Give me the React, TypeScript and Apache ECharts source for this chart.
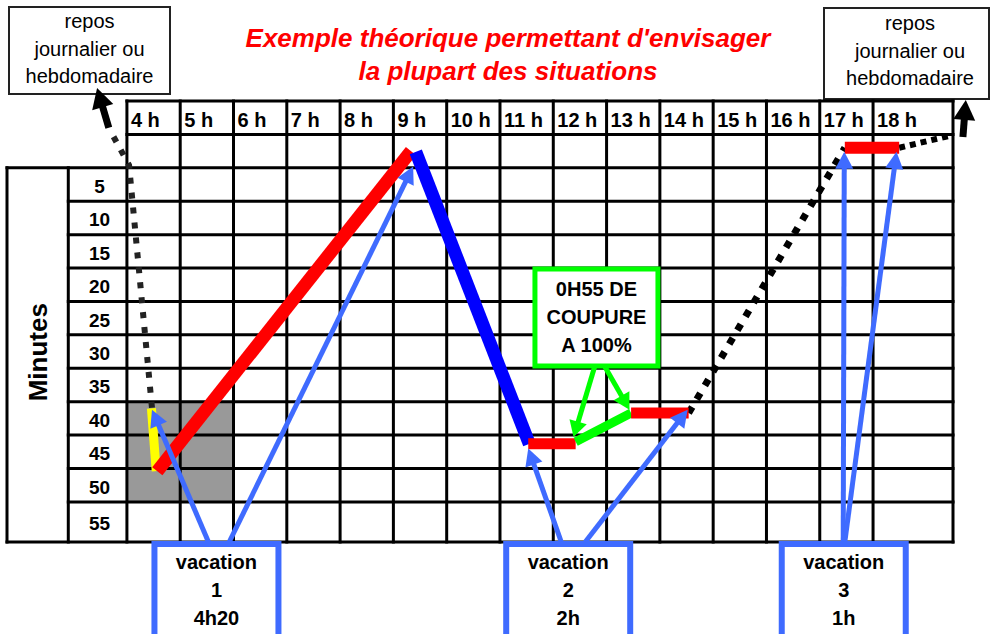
import React, { useEffect, useRef } from 'react';
import * as echarts from 'echarts';

const FONT = '"Liberation Sans", Arial, Helvetica, sans-serif';

// ---- texts ----
const titleLines = ["Exemple théorique permettant d'envisager", 'la plupart des situations'];
const reposLines = ['repos', 'journalier ou', 'hebdomadaire'];
const yAxisTitle = 'Minutes';

// ---- table ticks ----
const hourValues = [4, 5, 6, 7, 8, 9, 10, 11, 12, 13, 14, 15, 16, 17, 18];
const hourLabels = ['4 h', '5 h', '6 h', '7 h', '8 h', '9 h', '10 h', '11 h', '12 h', '13 h', '14 h', '15 h', '16 h', '17 h', '18 h'];
const minuteValues = [5, 10, 15, 20, 25, 30, 35, 40, 45, 50, 55];
const minuteLabels = ['5', '10', '15', '20', '25', '30', '35', '40', '45', '50', '55'];

// grey zone (hours x minutes)
const shadedHours = [4, 6];
const shadedMinutes = [40, 55];

// ---- paths as [hour, minute] points ----
const yellowPath = [[4.46, 41.0], [4.55, 50.4]];
const redPath = [[4.57, 50.4], [9.33, 2.5]];
const bluePath = [[9.42, 2.6], [11.55, 46.3]];
const redBeforeBreak = [[11.53, 46.3], [12.42, 46.3]];
const greenBreak = [[12.42, 46.0], [13.46, 41.7]];
const redAfterBreak = [[13.46, 41.7], [14.54, 41.7]];
const redTop = [[17.47, 2.0], [18.49, 2.0]];
const restLeft = [[4.47, 40.9], [4.04, 4.6], [3.68, -0.66]];
const restMiddle = [[14.54, 41.7], [17.47, 2.0]];
const restRight = [[18.49, 2.0], [19.42, 0.24]];

// ---- arrows [fromHour, fromMinute, toHour, toMinute] ----
const blueArrows = [
  [5.53, 61, 4.47, 41.2],
  [5.92, 61, 9.37, 4.8],
  [12.15, 61, 11.53, 47.0],
  [12.6, 61, 14.52, 41.2],
  [17.44, 61, 17.46, 2.6],
  [17.47, 61, 18.44, 2.6],
];
const greenArrows = [
  [12.78, 34.66, 12.38, 45.3],
  [12.96, 34.66, 13.43, 41.2],
];
const blackArrows = [
  [3.66, -1.0, 3.44, -6.95],
  [19.686, 0.39, 19.74, -5.15],
];

// ---- annotation boxes ----
const vacationHours = [5.68, 12.28, 17.45];
const vacationTexts = [
  ['vacation', '1', '4h20'],
  ['vacation', '2', '2h'],
  ['vacation', '3', '1h'],
];
const breakBoxCenter = [12.81, 27.4];
const breakTexts = ['0H55 DE', 'COUPURE', 'A 100%'];

// table frame (axis units)
const TABLE_LEFT = 1.75;
const LABEL_COL = 2.9;
const TABLE_RIGHT = 19.5;
const HEADER_TOP = -5;
const TABLE_BOTTOM = 61;

const BLUE = '#3f6bff';
const GREEN = '#00ff00';

function arrowEls(p: number[], q: number[], color: string, width: number, headLen: number, headHalf: number) {
  const dx = q[0] - p[0];
  const dy = q[1] - p[1];
  const len = Math.hypot(dx, dy) || 1;
  const ux = dx / len, uy = dy / len;
  const bx = q[0] - ux * headLen, by = q[1] - uy * headLen;
  const nx = -uy, ny = ux;
  return [
    { type: 'line', shape: { x1: p[0], y1: p[1], x2: bx + ux * 2, y2: by + uy * 2 }, style: { stroke: color, lineWidth: width } },
    {
      type: 'polygon',
      shape: { points: [[q[0], q[1]], [bx + nx * headHalf, by + ny * headHalf], [bx - nx * headHalf, by - ny * headHalf]] },
      style: { fill: color },
    },
  ];
}

function renderTable(_params: any, api: any) {
  const P = (x: number, y: number) => api.coord([x, y]);
  const children: any[] = [];
  const a = P(shadedHours[0], shadedMinutes[0]);
  const b = P(shadedHours[1], shadedMinutes[1]);
  children.push({ type: 'rect', shape: { x: a[0], y: a[1], width: b[0] - a[0], height: b[1] - a[1] }, style: { fill: '#999999' } });
  const seg = (x1: number, y1: number, x2: number, y2: number) => {
    const p = P(x1, y1), q = P(x2, y2);
    children.push({ type: 'line', shape: { x1: p[0], y1: p[1], x2: q[0], y2: q[1] }, style: { stroke: '#000', lineWidth: 3, lineCap: 'square' } });
  };
  hourValues.forEach((h) => seg(h, HEADER_TOP, h, TABLE_BOTTOM));
  seg(TABLE_RIGHT, HEADER_TOP, TABLE_RIGHT, TABLE_BOTTOM);
  seg(TABLE_LEFT, minuteValues[0], TABLE_LEFT, TABLE_BOTTOM);
  seg(LABEL_COL, minuteValues[0], LABEL_COL, TABLE_BOTTOM);
  seg(hourValues[0], HEADER_TOP, TABLE_RIGHT, HEADER_TOP);
  seg(hourValues[0], 0, TABLE_RIGHT, 0);
  seg(TABLE_LEFT, minuteValues[0], TABLE_RIGHT, minuteValues[0]);
  minuteValues.slice(1).forEach((m) => seg(LABEL_COL, m, TABLE_RIGHT, m));
  seg(TABLE_LEFT, TABLE_BOTTOM, TABLE_RIGHT, TABLE_BOTTOM);

  hourValues.forEach((h, i) => {
    const p = P(h, HEADER_TOP / 2);
    children.push({
      type: 'text', x: p[0] + 4, y: p[1] + 2,
      style: { text: hourLabels[i], fill: '#000', fontFamily: FONT, fontWeight: 'bold', fontSize: 20, align: 'left', verticalAlign: 'middle' },
    });
  });
  minuteValues.forEach((m, i) => {
    const next = i < minuteValues.length - 1 ? minuteValues[i + 1] : TABLE_BOTTOM;
    const p = P((LABEL_COL + hourValues[0]) / 2, (m + next) / 2);
    children.push({
      type: 'text', x: p[0] + 2, y: p[1] + 2,
      style: { text: minuteLabels[i], fill: '#000', fontFamily: FONT, fontWeight: 'bold', fontSize: 19, align: 'center', verticalAlign: 'middle' },
    });
  });
  const t = P((TABLE_LEFT + LABEL_COL) / 2, 32.6);
  children.push({
    type: 'text', x: t[0], y: t[1], rotation: Math.PI / 2,
    style: { text: yAxisTitle, fill: '#000', fontFamily: FONT, fontWeight: 'bold', fontSize: 26, align: 'center', verticalAlign: 'middle' },
  });
  return { type: 'group', children };
}

function pathSeries(data: number[][], color: string, width: number, dash?: number[]) {
  return {
    type: 'line',
    data,
    symbol: 'none',
    silent: true,
    clip: false,
    z: 3,
    lineStyle: { color, width, type: dash || 'solid', cap: 'butt', join: 'miter' },
    emphasis: { disabled: true },
  };
}

function arrowSeries(data: number[][], color: string, width: number, headLen: number, headHalf: number) {
  return {
    type: 'custom',
    data,
    dimensions: ['x1', 'y1', 'x2', 'y2'],
    encode: { x: [0, 2], y: [1, 3] },
    silent: true,
    z: 4,
    renderItem: (_params: any, api: any) => {
      const p = api.coord([api.value(0), api.value(1)]);
      const q = api.coord([api.value(2), api.value(3)]);
      return { type: 'group', children: arrowEls(p, q, color, width, headLen, headHalf) };
    },
  };
}

function textEl(x: number, y: number, text: string, size: number, weight: string) {
  return {
    type: 'text', x, y,
    style: { text, fill: '#000', fontFamily: FONT, fontWeight: weight, fontSize: size, align: 'center', verticalAlign: 'middle' },
  };
}

export default function App() {
  const ref = useRef<HTMLDivElement>(null);
  useEffect(() => {
    const chart = echarts.init(ref.current!, null, { renderer: 'svg' });
    const option: any = {
      animation: false,
      backgroundColor: '#ffffff',
      grid: { left: 7, right: 37, top: 101, bottom: 92 },
      xAxis: { type: 'value', min: TABLE_LEFT, max: TABLE_RIGHT, show: false },
      yAxis: { type: 'value', min: HEADER_TOP, max: TABLE_BOTTOM, inverse: true, show: false },
      graphic: [
        {
          type: 'text', x: 508, y: 38,
          style: { text: titleLines[0], fill: '#ff0000', fontFamily: FONT, fontWeight: 'bold', fontStyle: 'italic', fontSize: 26, align: 'center', verticalAlign: 'middle' },
        },
        {
          type: 'text', x: 508, y: 71,
          style: { text: titleLines[1], fill: '#ff0000', fontFamily: FONT, fontWeight: 'bold', fontStyle: 'italic', fontSize: 26, align: 'center', verticalAlign: 'middle' },
        },
        { type: 'rect', shape: { x: 9, y: 7, width: 161, height: 87 }, style: { fill: '#fff', stroke: '#222', lineWidth: 2 } },
        ...reposLines.map((t, i) => ({
          type: 'text', x: 89.5, y: 21 + i * 27.5,
          style: { text: t, fill: '#000', fontFamily: FONT, fontSize: 20, align: 'center', verticalAlign: 'middle' },
        })),
        { type: 'rect', shape: { x: 824, y: 8, width: 165, height: 91 }, style: { fill: '#fff', stroke: '#222', lineWidth: 2 } },
        ...reposLines.map((t, i) => ({
          type: 'text', x: 910, y: 23 + i * 27.5,
          style: { text: t, fill: '#000', fontFamily: FONT, fontSize: 20, align: 'center', verticalAlign: 'middle' },
        })),
      ],
      series: [
        { type: 'custom', data: [[4, 0]], silent: true, z: 1, renderItem: renderTable },
        pathSeries(restLeft, '#222', 6, [6, 9]),
        pathSeries(restMiddle, '#000', 7, [7, 9]),
        pathSeries(restRight, '#000', 6, [6, 5]),
        pathSeries(yellowPath, '#ffff00', 9),
        pathSeries(redPath, '#ff0000', 13),
        pathSeries(bluePath, '#0000ff', 13),
        pathSeries(redBeforeBreak, '#ff0000', 11),
        pathSeries(greenBreak, GREEN, 9),
        pathSeries(redAfterBreak, '#ff0000', 11),
        pathSeries(redTop, '#ff0000', 12),
        arrowSeries(blueArrows, BLUE, 5, 17, 9),
        arrowSeries(greenArrows, GREEN, 5, 16, 9),
        arrowSeries(blackArrows, '#000', 7, 20, 11),
        {
          type: 'custom',
          data: vacationHours.map((h) => [h, TABLE_BOTTOM]),
          silent: true,
          z: 5,
          renderItem: (params: any, api: any) => {
            const c = api.coord([api.value(0), api.value(1)]);
            const w = 124;
            const top = c[1] + 2;
            const lines = vacationTexts[params.dataIndex];
            return {
              type: 'group',
              children: [
                { type: 'rect', shape: { x: c[0] - w / 2, y: top, width: w, height: 120 }, style: { fill: '#fff', stroke: BLUE, lineWidth: 6 } },
                ...lines.map((t, i) => textEl(c[0], top + 18 + i * 28, t, 20, 'bold')),
              ],
            };
          },
        },
        {
          type: 'custom',
          data: [breakBoxCenter],
          silent: true,
          z: 5,
          renderItem: (_params: any, api: any) => {
            const c = api.coord([api.value(0), api.value(1)]);
            const w = 123, h = 97;
            return {
              type: 'group',
              children: [
                { type: 'rect', shape: { x: c[0] - w / 2, y: c[1] - h / 2, width: w, height: h }, style: { fill: '#fff', stroke: GREEN, lineWidth: 5 } },
                ...breakTexts.map((t, i) => textEl(c[0], c[1] - 28 + i * 28, t, 20, 'bold')),
              ],
            };
          },
        },
      ],
    };
    chart.setOption(option);
    return () => chart.dispose();
  }, []);
  return <div ref={ref} style={{ position: 'fixed', left: 0, top: 0, width: 990, height: 634, background: '#fff' }} />;
}
